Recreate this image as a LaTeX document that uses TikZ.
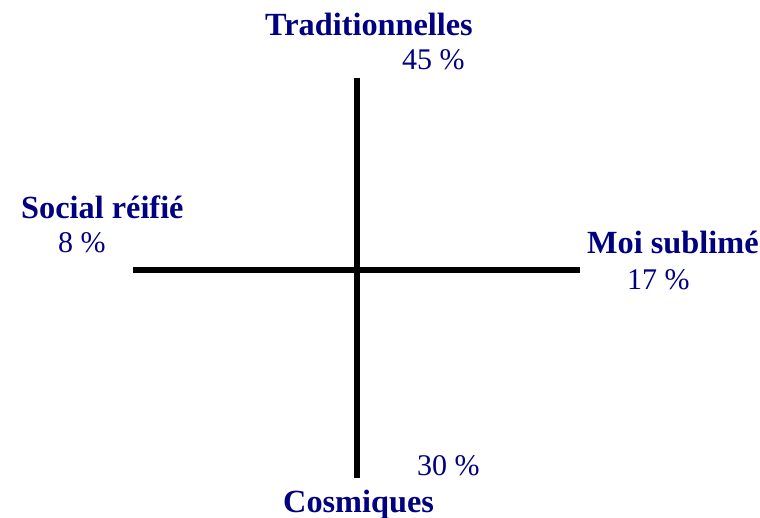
\documentclass[tikz,border=0pt]{standalone}
\usepackage{fontspec}
\setmainfont{Liberation Serif}
\definecolor{navyblue}{RGB}{0,0,128}
\begin{document}
\begin{tikzpicture}[x=1pt,y=-1pt,
  title/.style={font=\fontsize{32.3}{36}\selectfont\bfseries, text=navyblue, inner sep=0pt, anchor=base west},
  pct/.style={font=\fontsize{30}{36}\selectfont, text=navyblue, inner sep=0pt, anchor=base west},
  axis/.style={line width=5.5pt, black}]
\useasboundingbox (0,0) rectangle (760,518);
\coordinate (top) at (357,78);
\coordinate (bottom) at (357,478);
\coordinate (left) at (133,270);
\coordinate (right) at (580,270);
\draw[axis] (top) -- (bottom);
\draw[axis] (left) -- (right);
\node[title] (trad) at (265,36) {Traditionnelles};
\node[pct] (p45) at (402,70) {45 \%};
\node[title] (soc) at (21,219) {Social réifié};
\node[pct] (p8) at (58,253) {8 \%};
\node[title] (moi) at (587,254) {Moi sublimé};
\node[pct] (p17) at (627,290) {17 \%};
\node[pct] (p30) at (417,475) {30 \%};
\node[title] (cos) at (283,512) {Cosmiques};
\end{tikzpicture}
\end{document}
